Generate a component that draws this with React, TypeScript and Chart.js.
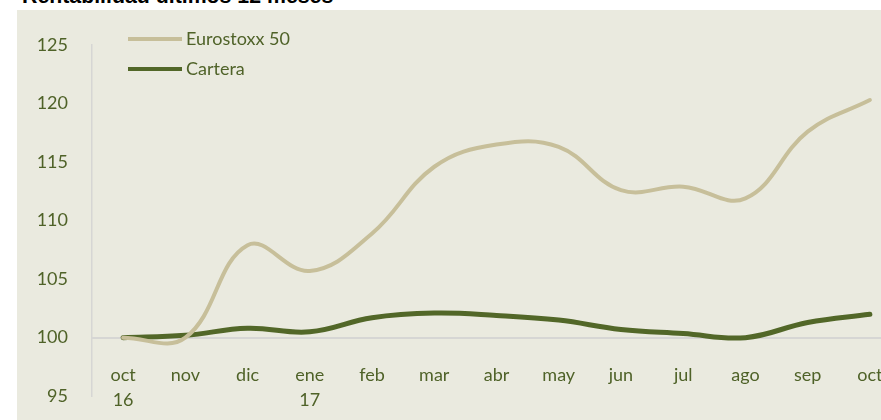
import React, { useEffect, useRef } from 'react';
import { Chart, registerables } from 'chart.js';

Chart.register(...registerables);

const title = 'Rentabilidad últimos 12 meses';
const months: (string | string[])[] = [['oct', '16'], 'nov', 'dic', ['ene', '17'], 'feb', 'mar', 'abr', 'may', 'jun', 'jul', 'ago', 'sep', 'oct'];
const seriesNames = ['Eurostoxx 50', 'Cartera'];
const eurostoxx = [100, 100.0, 107.9, 105.7, 108.9, 114.6, 116.5, 116.3, 112.6, 112.9, 111.9, 117.6, 120.3];
const cartera = [100, 100.2, 100.8, 100.5, 101.7, 102.1, 101.9, 101.5, 100.7, 100.35, 100.0, 101.3, 102.0];
const yMin = 95;
const yMax = 125;
const yStep = 5;
const baseValue = 100;

const TEXT = '#4f6228';
const FONT = 'Lato';

const legendPlugin = {
  id: 'customLegend',
  afterDraw(chart: any) {
    const ctx = chart.ctx;
    chart.data.datasets.forEach((ds: any, i: number) => {
      const y = 29 + i * 30;
      ctx.save();
      ctx.strokeStyle = ds.borderColor;
      ctx.lineWidth = 4;
      ctx.lineCap = 'butt';
      ctx.beginPath();
      ctx.moveTo(111, y);
      ctx.lineTo(165, y);
      ctx.stroke();
      ctx.fillStyle = TEXT;
      ctx.font = `18px ${FONT}`;
      ctx.textBaseline = 'middle';
      ctx.textAlign = 'left';
      ctx.fillText(ds.label, 169, y);
      ctx.restore();
    });
  },
};

function ChartView() {
  const ref = useRef<HTMLCanvasElement | null>(null);
  useEffect(() => {
    if (!ref.current) return;
    const chart = new Chart(ref.current, {
      type: 'line',
      data: {
        labels: months,
        datasets: [
          {
            label: seriesNames[0],
            data: eurostoxx,
            borderColor: '#c7bf9a',
            borderWidth: 4,
            pointRadius: 0,
            tension: 0.4,
            borderCapStyle: 'round',
            borderJoinStyle: 'round',
          },
          {
            label: seriesNames[1],
            data: cartera,
            borderColor: '#526728',
            borderWidth: 5,
            pointRadius: 0,
            tension: 0.4,
            borderCapStyle: 'round',
            borderJoinStyle: 'round',
          },
        ],
      },
      options: {
        responsive: false,
        animation: false,
        devicePixelRatio: 1,
        layout: { padding: { top: 35, bottom: 14, left: 0, right: 16 } },
        plugins: { legend: { display: false }, tooltip: { enabled: false }, title: { display: false } },
        scales: {
          x: {
            type: 'category',
            offset: true,
            position: { y: baseValue } as any,
            grid: { display: false, drawTicks: false },
            border: { display: true, color: '#d6d6d4', width: 2 },
            ticks: {
              autoSkip: false,
              maxRotation: 0,
              minRotation: 0,
              padding: 25,
              color: TEXT,
              font: { family: FONT, size: 18, lineHeight: 1.4 },
            },
            afterFit: (s: any) => {
              s.height = 0;
            },
          },
          y: {
            min: yMin,
            max: yMax,
            grid: { display: false, drawTicks: false },
            border: { display: true, color: '#d6d6d4', width: 1.5 },
            ticks: {
              stepSize: yStep,
              padding: 24,
              color: TEXT,
              font: { family: FONT, size: 18 },
            },
            afterFit: (s: any) => {
              s.width = 75;
            },
          },
        },
      },
      plugins: [legendPlugin],
    } as any);
    return () => chart.destroy();
  }, []);
  return <canvas ref={ref} width={900} height={421} style={{ display: 'block', width: 900, height: 421 }} />;
}

export default function App() {
  return (
    <div style={{ position: 'fixed', left: 0, top: 0, width: 881, height: 420, overflow: 'hidden', background: '#ffffff' }}>
      <div
        style={{
          position: 'absolute',
          left: 22,
          top: -14,
          fontFamily: '"Liberation Sans", Arial, sans-serif',
          fontWeight: 'bold',
          fontSize: 21.3,
          lineHeight: '21px',
          color: '#000',
          whiteSpace: 'nowrap',
        }}
      >
        {title}
      </div>
      <div style={{ position: 'absolute', left: 17, top: 10, width: 900, height: 421, background: '#eaeadf' }}>
        <ChartView />
      </div>
    </div>
  );
}
